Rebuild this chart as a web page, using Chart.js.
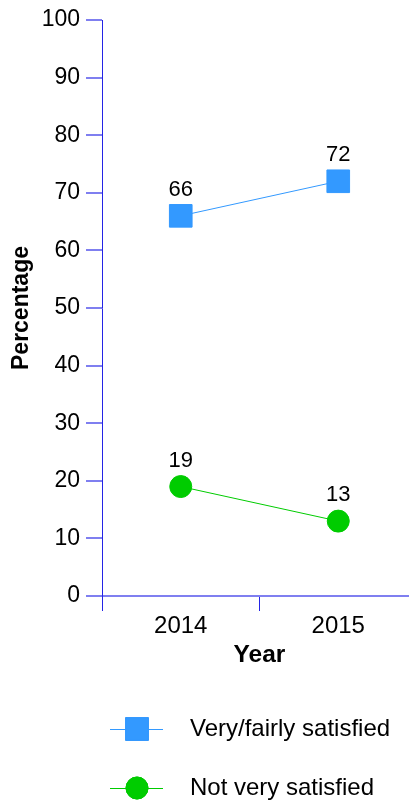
<!DOCTYPE html>
<html>
<head>
<meta charset="utf-8">
<title>Satisfaction by year</title>
<script src="https://cdn.jsdelivr.net/npm/chart.js@4/dist/chart.umd.min.js"></script>
<style>
  html, body { margin: 0; padding: 0; background: #ffffff; overflow: hidden; }
  #clip { width: 409px; height: 805px; overflow: hidden; position: relative; }
  #wrap { width: 434px; height: 805px; position: relative; }
  canvas { display: block; }
</style>
</head>
<body>
<div id="clip"><div id="wrap"><canvas id="chart"></canvas></div></div>
<script>
// Survey years and results (percent of respondents)
const years = ['2014', '2015'];
const satisfied = [66, 72];
const notSatisfied = [19, 13];
const seriesNames = ['Very/fairly satisfied', 'Not very satisfied'];
const yTicks = [0, 10, 20, 30, 40, 50, 60, 70, 80, 90, 100];

const FONT = '"Liberation Sans", Arial, Helvetica, sans-serif';
const AXIS_V = '#2424e6';
const AXIS_H = '#7f7ff0';

// Value labels above each point
const valueLabels = {
  id: 'valueLabels',
  afterDatasetsDraw(chart) {
    const ctx = chart.ctx;
    ctx.save();
    ctx.font = '22px ' + FONT;
    ctx.fillStyle = '#000';
    ctx.textAlign = 'center';
    ctx.textBaseline = 'middle';
    chart.data.datasets.forEach((ds, i) => {
      chart.getDatasetMeta(i).data.forEach((pt, j) => {
        ctx.fillText(String(ds.data[j]), pt.x, pt.y - 26);
      });
    });
    ctx.restore();
  }
};

// Legend stacked under the x axis
const bottomLegend = {
  id: 'bottomLegend',
  afterDraw(chart) {
    const ctx = chart.ctx;
    const rows = [729, 788];
    ctx.save();
    chart.data.datasets.forEach((ds, i) => {
      const y = rows[i];
      ctx.strokeStyle = ds.borderColor;
      ctx.lineWidth = 1;
      ctx.beginPath();
      ctx.moveTo(110, y + 0.5);
      ctx.lineTo(163, y + 0.5);
      ctx.stroke();
      Chart.helpers.drawPoint(ctx, {
        pointStyle: ds.pointStyle,
        radius: ds.pointRadius,
        borderWidth: ds.pointBorderWidth,
        rotation: 0
      }, 137, y);
      ctx.fillStyle = ds.pointBackgroundColor;
      ctx.strokeStyle = ds.pointBorderColor;
      ctx.lineWidth = ds.pointBorderWidth;
      ctx.fill();
      ctx.stroke();
      ctx.fillStyle = '#000';
      ctx.font = '24px ' + FONT;
      ctx.textAlign = 'left';
      ctx.textBaseline = 'middle';
      ctx.fillText(ds.label, 190, y);
    });
    ctx.restore();
  }
};

new Chart(document.getElementById('chart'), {
  type: 'line',
  data: {
    labels: years,
    datasets: [
      {
        label: seriesNames[0],
        data: satisfied,
        borderColor: '#3399ff',
        backgroundColor: '#3399ff',
        borderWidth: 1,
        pointStyle: 'rect',
        pointRadius: 16,
        pointBorderWidth: 1,
        pointBackgroundColor: '#3399ff',
        pointBorderColor: '#3399ff',
        tension: 0
      },
      {
        label: seriesNames[1],
        data: notSatisfied,
        borderColor: '#00cc00',
        backgroundColor: '#00cc00',
        borderWidth: 1,
        pointStyle: 'circle',
        pointRadius: 11,
        pointBorderWidth: 1,
        pointBackgroundColor: '#00cc00',
        pointBorderColor: '#00cc00',
        tension: 0
      }
    ]
  },
  options: {
    responsive: true,
    maintainAspectRatio: false,
    devicePixelRatio: 1,
    animation: false,
    events: [],
    layout: { padding: { top: 20, right: 4, bottom: 129, left: 0 } },
    plugins: {
      legend: { display: false },
      tooltip: { enabled: false }
    },
    scales: {
      x: {
        type: 'category',
        offset: true,
        grid: {
          display: true,
          offset: true,
          drawOnChartArea: false,
          drawTicks: true,
          tickLength: 15,
          color: AXIS_V,
          lineWidth: 1
        },
        border: { display: true, color: AXIS_H, width: 2 },
        ticks: {
          color: '#000',
          font: { family: FONT, size: 24 },
          padding: 1,
          maxRotation: 0
        },
        title: {
          display: true,
          text: 'Year',
          color: '#000',
          font: { family: FONT, size: 24.5, weight: 'bold' },
          padding: { top: 0, bottom: 6 }
        },
        afterFit(scale) {
          scale.height = 80;
          scale.paddingLeft = 0;
          scale.paddingRight = 0;
        }
      },
      y: {
        min: 0,
        max: 100,
        afterBuildTicks(scale) { scale.ticks = yTicks.map(v => ({ value: v })); },
        grid: {
          display: true,
          drawOnChartArea: false,
          drawTicks: true,
          tickLength: 16,
          color: AXIS_H,
          lineWidth: 2
        },
        border: { display: true, color: AXIS_V, width: 1 },
        ticks: {
          color: '#000',
          font: { family: FONT, size: 23 },
          padding: 6
        },
        title: {
          display: true,
          text: 'Percentage',
          color: '#000',
          font: { family: FONT, size: 23, weight: 'bold' },
          padding: { top: 8, bottom: 0 }
        },
        afterFit(scale) { scale.width = 102; }
      }
    }
  },
  plugins: [valueLabels, bottomLegend]
});
</script>
</body>
</html>
